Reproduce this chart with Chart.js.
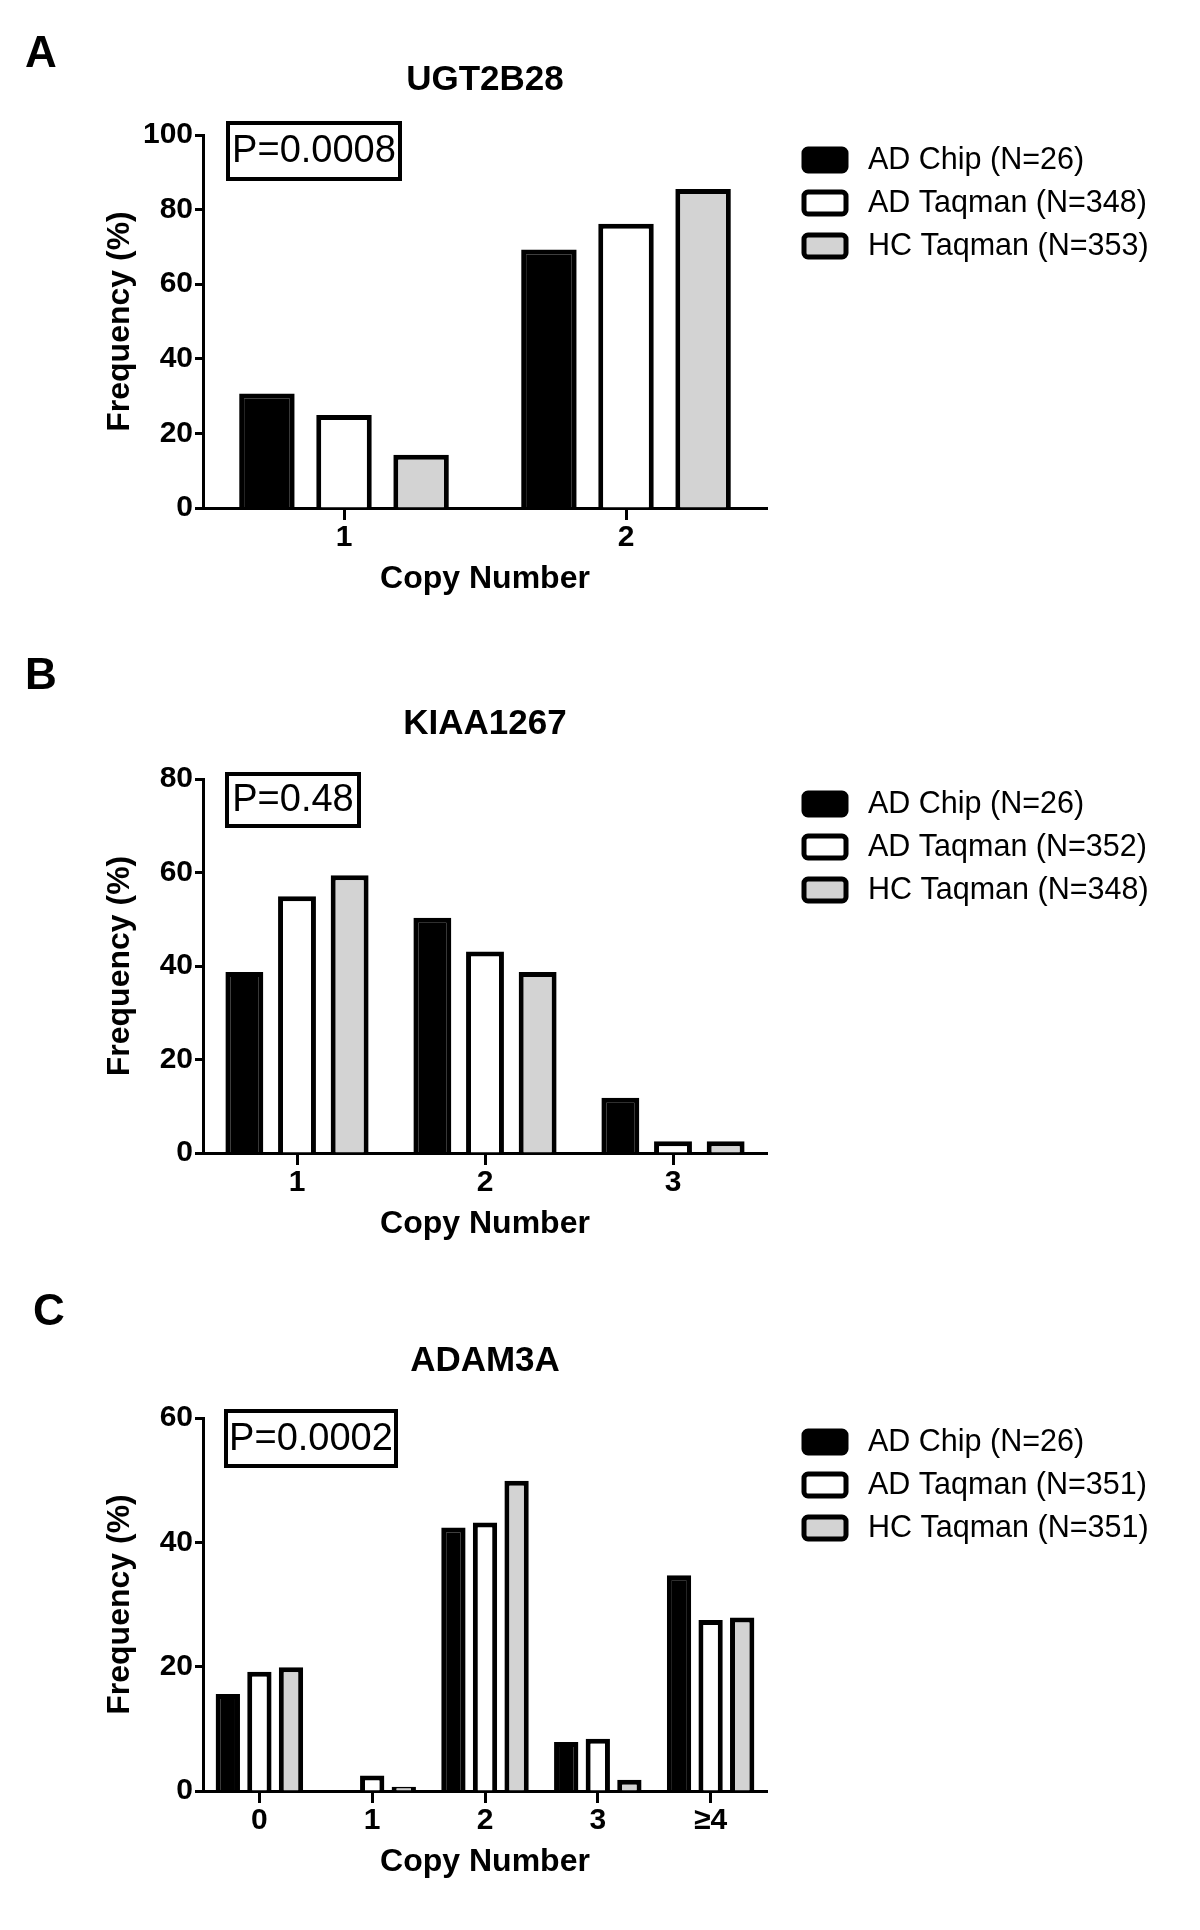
<!DOCTYPE html>
<html>
<head>
<meta charset="utf-8">
<script src="https://cdn.jsdelivr.net/npm/chart.js@4.4.1/dist/chart.umd.min.js"></script>
<style>
  body { margin: 0; background: #fff; }
  #page { position: relative; width: 1200px; height: 1930px; background: #fff; }
  .panel { position: absolute; left: 0; }
</style>
</head>
<body>
<div id="page">
  <canvas id="chartA" class="panel" width="1200" height="640" style="top:0px"></canvas>
  <canvas id="chartB" class="panel" width="1200" height="640" style="top:640px"></canvas>
  <canvas id="chartC" class="panel" width="1200" height="650" style="top:1280px"></canvas>
</div>
<script>
// group names used in every legend
const groupNames = ['AD Chip', 'AD Taqman', 'HC Taqman'];

// A - UGT2B28
const ugtCopies = ['1', '2'];
const ugtCounts = [26, 348, 353];
const ugtADChip = [30.7, 69.3];
const ugtADTaqman = [24.9, 76.2];
const ugtHCTaqman = [14.3, 85.5];
const ugtTicks = [0, 20, 40, 60, 80, 100];

// B - KIAA1267
const kiaCopies = ['1', '2', '3'];
const kiaCounts = [26, 352, 348];
const kiaADChip = [38.7, 50.3, 11.8];
const kiaADTaqman = [54.9, 43.1, 2.5];
const kiaHCTaqman = [59.4, 38.7, 2.5];
const kiaTicks = [0, 20, 40, 60, 80];

// C - ADAM3A
const adamCopies = ['0', '1', '2', '3', '\u22654'];
const adamCounts = [26, 351, 351];
const adamADChip = [15.6, 0, 42.4, 7.9, 34.7];
const adamADTaqman = [19.2, 2.5, 43.2, 8.4, 27.5];
const adamHCTaqman = [19.9, 0.7, 49.9, 1.8, 27.9];
const adamTicks = [0, 20, 40];
const adamMax = 60;

const fills = ['#000000', '#ffffff', '#d3d3d3'];
const sansFamily = '"Liberation Sans", Arial, Helvetica, sans-serif';
const narrowFamily = '"Liberation Sans Narrow", "Arial Narrow", "Liberation Sans", Arial, sans-serif';

// letter, gene name, p-value box and legend drawn around the plot
const panelDecor = {
  id: 'panelDecor',
  afterDraw(chart, args, opts) {
    const ctx = chart.ctx;
    const area = chart.chartArea;
    ctx.save();
    ctx.fillStyle = '#000';
    ctx.strokeStyle = '#000';

    ctx.font = 'bold 44px ' + sansFamily;
    ctx.textAlign = 'center';
    ctx.textBaseline = 'middle';
    ctx.fillText(opts.letter, opts.letterX, opts.letterY);

    ctx.font = 'bold 35px ' + sansFamily;
    ctx.fillText(opts.gene, (area.left + area.right) / 2, area.top + opts.geneOffset);

    // P value box
    const b = opts.pBox;
    ctx.lineWidth = 4;
    ctx.strokeRect(area.left + b.dx + 2, area.top + b.dy + 2, b.w - 4, b.h - 4);
    ctx.font = '38px ' + sansFamily;
    ctx.fillText(opts.pText, area.left + b.dx + b.w / 2, area.top + b.dy + b.h / 2 + 1);

    // legend
    ctx.textAlign = 'left';
    ctx.font = '30.5px ' + sansFamily;
    chart.data.datasets.forEach((ds, i) => {
      const cy = area.top + opts.legendTop + i * 43;
      const sx = area.right + 37;
      ctx.beginPath();
      ctx.roundRect(sx, cy - 11, 42, 22, 4);
      ctx.fillStyle = ds.backgroundColor;
      ctx.fill();
      ctx.lineWidth = 5;
      ctx.strokeStyle = '#000';
      ctx.stroke();
      ctx.fillStyle = '#000';
      ctx.fillText(ds.label, area.right + 101, cy + 1);
    });
    ctx.restore();
  }
};

function makePanel(canvasId, copies, counts, series, ticks, yMax, layout, decor, bars) {
  const datasets = series.map((values, i) => ({
    label: groupNames[i] + ' (N=' + counts[i] + ')',
    data: values,
    backgroundColor: fills[i],
    borderColor: '#000',
    borderWidth: 5,
    borderSkipped: 'start',
    categoryPercentage: bars.cat,
    barPercentage: bars.bar
  }));

  return new Chart(document.getElementById(canvasId), {
    type: 'bar',
    data: { labels: copies, datasets: datasets },
    options: {
      responsive: false,
      animation: false,
      events: [],
      layout: { padding: layout },
      plugins: {
        legend: { display: false },
        tooltip: { enabled: false },
        panelDecor: decor
      },
      scales: {
        x: {
          offset: true,
          border: { display: true, color: '#000', width: 3 },
          grid: { display: true, drawOnChartArea: false, offset: false, tickLength: 12, tickWidth: 3, tickColor: '#000', color: '#000' },
          ticks: { color: '#000', font: { family: narrowFamily, size: 30, weight: 'bold' }, padding: 0, maxRotation: 0 },
          title: { display: true, text: 'Copy Number', color: '#000', font: { family: sansFamily, size: 32, weight: 'bold' }, padding: 0 },
          afterFit(scale) { scale.height = 90; }
        },
        y: {
          min: ticks[0],
          max: yMax,
          border: { display: true, color: '#000', width: 3 },
          grid: { display: true, drawOnChartArea: false, tickLength: 8, tickWidth: 3, tickColor: '#000', color: '#000' },
          ticks: { stepSize: ticks[1] - ticks[0], color: '#000', font: { family: narrowFamily, size: 30, weight: 'bold' }, padding: 2 },
          title: { display: true, text: 'Frequency (%)', color: '#000', font: { family: sansFamily, size: 32, weight: 'bold' }, padding: 0 },
          afterFit(scale) { scale.width = 102; }
        }
      }
    },
    plugins: [panelDecor]
  });
}

makePanel('chartA', ugtCopies, ugtCounts, [ugtADChip, ugtADTaqman, ugtHCTaqman], ugtTicks, ugtTicks[ugtTicks.length - 1],
  { left: 101, right: 433, top: 135, bottom: 42 },
  { letter: 'A', letterX: 41, letterY: 55, gene: 'UGT2B28', geneOffset: -55, pText: 'P=0.0008',
    pBox: { dx: 23, dy: -14, w: 176, h: 60 }, legendTop: 25 },
  { cat: 0.82, bar: 0.72 });

makePanel('chartB', kiaCopies, kiaCounts, [kiaADChip, kiaADTaqman, kiaHCTaqman], kiaTicks, kiaTicks[kiaTicks.length - 1],
  { left: 101, right: 433, top: 139, bottom: 37 },
  { letter: 'B', letterX: 41, letterY: 37, gene: 'KIAA1267', geneOffset: -55, pText: 'P=0.48',
    pBox: { dx: 22, dy: -7, w: 136, h: 56 }, legendTop: 25 },
  { cat: 0.84, bar: 0.72 });

makePanel('chartC', adamCopies, adamCounts, [adamADChip, adamADTaqman, adamHCTaqman], adamTicks, adamMax,
  { left: 101, right: 433, top: 138, bottom: 49 },
  { letter: 'C', letterX: 49, letterY: 33, gene: 'ADAM3A', geneOffset: -57, pText: 'P=0.0002',
    pBox: { dx: 21, dy: -9, w: 174, h: 59 }, legendTop: 24 },
  { cat: 0.84, bar: 0.77 });
</script>
</body>
</html>
